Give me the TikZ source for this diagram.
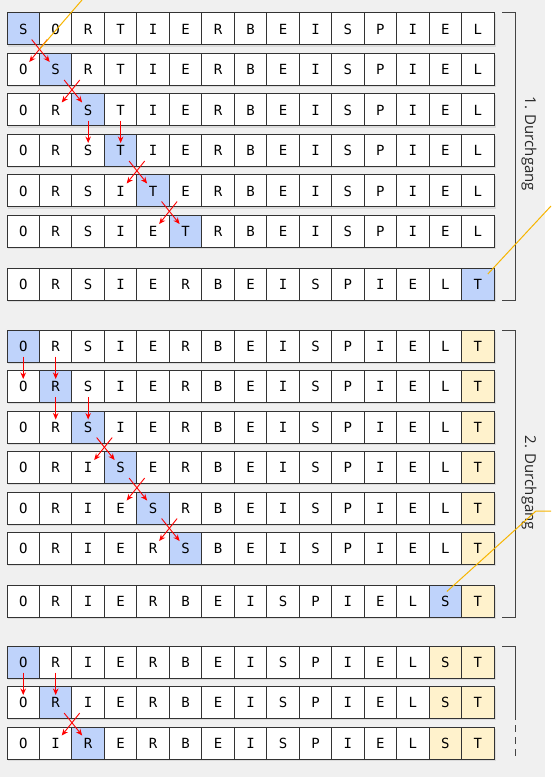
\documentclass[tikz,border=0pt]{standalone}
\usepackage{fontspec}
\setmainfont{Open Sans}
\newfontfamily\cellfont{DejaVu Sans Mono}
\usetikzlibrary{calc,arrows.meta}
\definecolor{bgC}{HTML}{F0F0F0}
\definecolor{blueC}{HTML}{BFD3FB}
\definecolor{yelC}{HTML}{FFF2CC}
\definecolor{lineC}{HTML}{333333}
\definecolor{orC}{HTML}{F7B500}
\definecolor{brC}{HTML}{444444}
\tikzset{
  cell/.style={draw=lineC, line width=1pt, minimum width=32.47pt, minimum height=32pt,
    inner sep=0pt, text height=10.3pt, text depth=0pt,
    font=\cellfont\fontsize{14}{14}\selectfont},
  rowshadow/.style={fill=black!14},
  redarr/.style={draw=red, line width=0.9pt, -{Stealth[length=6.5pt,width=5.5pt]}},
  bracketline/.style={draw=brC, line width=1pt},
  lab/.style={font=\fontsize{15}{15}\selectfont, inner sep=0pt, text=black!85},
  orline/.style={draw=orC, line width=1pt}
}
\newcommand\cellrow[5]{%
  \fill[rowshadow] (7.5,#2+1.5) rectangle (495.5,#2+33.8);
  \foreach \l [count=\i] in {#3} {%
    \ifnum\i=#4\relax\def\cf{blueC}\else\ifnum\i<#5\relax\def\cf{white}\else\def\cf{yelC}\fi\fi
    \node[cell,fill=\cf] (#1-\i) at ({7+(\i-0.5)*32.47},{#2+16}) {\l};
  }%
}
\newcommand\arr[4]{\draw[redarr] ($(#1-#3)!0.26!(#2-#4)$) -- ($(#1-#3)!0.815!(#2-#4)$);}
\begin{document}
\begin{tikzpicture}[x=1pt,y=-1pt]
\fill[white] (0,0) rectangle (551,783);
\useasboundingbox (0,0) rectangle (551,783);
\fill[bgC] (0,0) rectangle (545,777);
% pass 1
\cellrow{A1}{13}{S,O,R,T,I,E,R,B,E,I,S,P,I,E,L}{1}{16}
\cellrow{A2}{53.5}{O,S,R,T,I,E,R,B,E,I,S,P,I,E,L}{2}{16}
\cellrow{A3}{94}{O,R,S,T,I,E,R,B,E,I,S,P,I,E,L}{3}{16}
\cellrow{A4}{134.5}{O,R,S,T,I,E,R,B,E,I,S,P,I,E,L}{4}{16}
\cellrow{A5}{175}{O,R,S,I,T,E,R,B,E,I,S,P,I,E,L}{5}{16}
\cellrow{A6}{215.5}{O,R,S,I,E,T,R,B,E,I,S,P,I,E,L}{6}{16}
\cellrow{A7}{268}{O,R,S,I,E,R,B,E,I,S,P,I,E,L,T}{15}{16}
% pass 2
\cellrow{B1}{330}{O,R,S,I,E,R,B,E,I,S,P,I,E,L,T}{1}{15}
\cellrow{B2}{370.5}{O,R,S,I,E,R,B,E,I,S,P,I,E,L,T}{2}{15}
\cellrow{B3}{411}{O,R,S,I,E,R,B,E,I,S,P,I,E,L,T}{3}{15}
\cellrow{B4}{451.5}{O,R,I,S,E,R,B,E,I,S,P,I,E,L,T}{4}{15}
\cellrow{B5}{492}{O,R,I,E,S,R,B,E,I,S,P,I,E,L,T}{5}{15}
\cellrow{B6}{532.5}{O,R,I,E,R,S,B,E,I,S,P,I,E,L,T}{6}{15}
\cellrow{B7}{585}{O,R,I,E,R,B,E,I,S,P,I,E,L,S,T}{14}{15}
% pass 3
\cellrow{C1}{646}{O,R,I,E,R,B,E,I,S,P,I,E,L,S,T}{1}{14}
\cellrow{C2}{686.5}{O,R,I,E,R,B,E,I,S,P,I,E,L,S,T}{2}{14}
\cellrow{C3}{727}{O,I,R,E,R,B,E,I,S,P,I,E,L,S,T}{3}{14}
% arrows pass 1
\arr{A1}{A2}{1}{2}\arr{A1}{A2}{2}{1}
\arr{A2}{A3}{2}{3}\arr{A2}{A3}{3}{2}
\arr{A3}{A4}{3}{3}\arr{A3}{A4}{4}{4}
\arr{A4}{A5}{4}{5}\arr{A4}{A5}{5}{4}
\arr{A5}{A6}{5}{6}\arr{A5}{A6}{6}{5}
% arrows pass 2
\arr{B1}{B2}{1}{1}\arr{B1}{B2}{2}{2}
\arr{B2}{B3}{2}{2}\arr{B2}{B3}{3}{3}
\arr{B3}{B4}{3}{4}\arr{B3}{B4}{4}{3}
\arr{B4}{B5}{4}{5}\arr{B4}{B5}{5}{4}
\arr{B5}{B6}{5}{6}\arr{B5}{B6}{6}{5}
% arrows pass 3
\arr{C1}{C2}{1}{1}\arr{C1}{C2}{2}{2}
\arr{C2}{C3}{2}{3}\arr{C2}{C3}{3}{2}
% brackets
\draw[bracketline] (502,13) -- (515,13) -- (515,300) -- (502,300);
\draw[bracketline] (502,330) -- (515,330) -- (515,617) -- (502,617);
\draw[bracketline] (502,646) -- (515,646) -- (515,713);
\draw[bracketline, dash pattern=on 7pt off 5pt] (515,713) -- (515,760);
\node[lab, rotate=-90] (L1) at (529,144) {1. Durchgang};
\node[lab, rotate=-90] (L2) at (529,483) {2. Durchgang};
% annotation lines
\coordinate (o1) at (82,0);
\coordinate (o2) at (551,206);
\coordinate (o3) at (551,511);
\coordinate (o3b) at (536,511);
\draw[orline] (o1) -- ($(A1-1)!0.5!(A2-2)$);
\draw[orline] (o2) -- ($(A7-15)+(10,-10)$);
\draw[orline] (o3) -- (o3b) -- ($(B7-14)+(1.5,-9.5)$);
\end{tikzpicture}
\end{document}
